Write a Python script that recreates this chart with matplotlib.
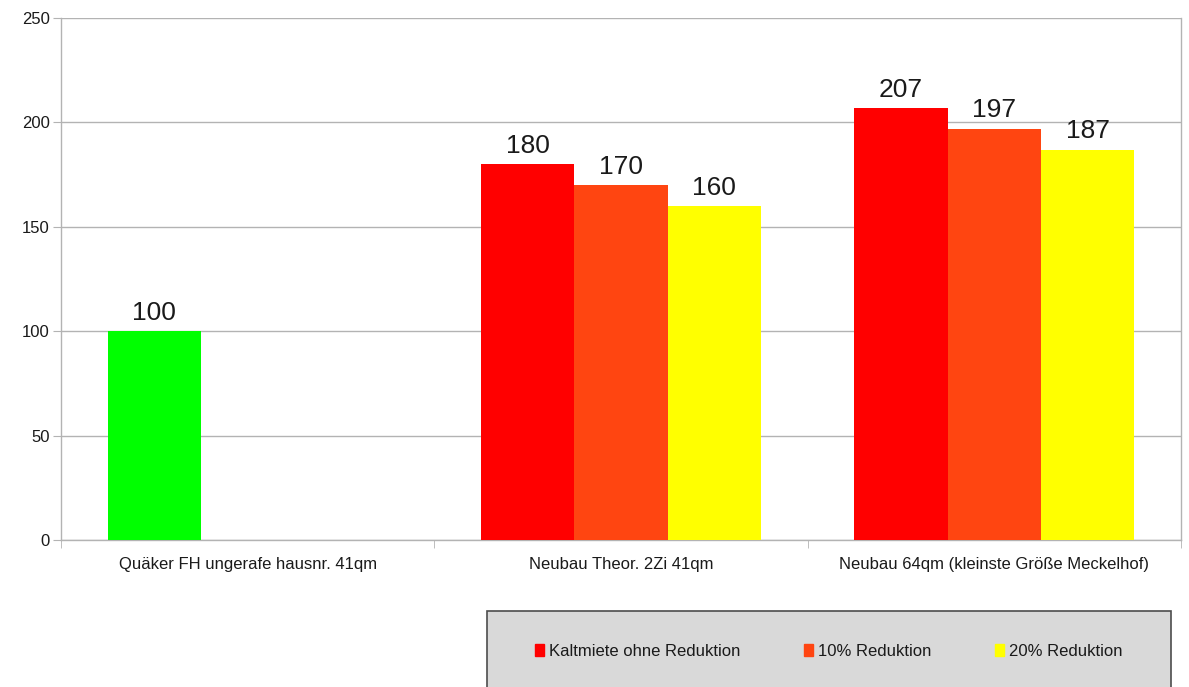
import numpy as np
import matplotlib
matplotlib.use('Agg')
import matplotlib.pyplot as plt
import matplotlib.patches as mpatches

plt.rcParams['font.family'] = ['Liberation Sans', 'DejaVu Sans']

categories = ['Quäker FH ungerafe hausnr. 41qm',
              'Neubau Theor. 2Zi 41qm',
              'Neubau 64qm (kleinste Größe Meckelhof)']
series_names = ['Kaltmiete ohne Reduktion', '10% Reduktion', '20% Reduktion']
kalt = [100, 180, 207]
red10 = [None, 170, 197]
red20 = [None, 160, 187]
series_vals = [kalt, red10, red20]
series_colors = ['#ff0000', '#ff4511', '#ffff00']
first_bar_color = '#00ff00'   # erster Balken (Bestand) grün

GRID = '#b3b3b3'
TXT = '#1a1a1a'

fig = plt.figure(figsize=(11.89, 6.87), dpi=100)
ax = fig.add_axes([0.0513, 0.214, 0.9420, 0.7598])

n = len(categories)
x = np.arange(n)
w = 0.25
for si, vals in enumerate(series_vals):
    for ci, v in enumerate(vals):
        if v is None:
            continue
        col = series_colors[si]
        if si == 0 and ci == 0:
            col = first_bar_color
        xp = x[ci] + (si - 1) * w
        ax.bar(xp, v, width=w, color=col, edgecolor='none', zorder=3)
        ax.text(xp, v + 3, str(v), ha='center', va='bottom', fontsize=19,
                color=TXT, zorder=4)

ax.set_xlim(-0.5, n - 0.5)
ax.set_ylim(0, 250)
ax.set_yticks(range(0, 251, 50))
ax.yaxis.grid(True, color=GRID, linewidth=1, zorder=0)
ax.tick_params(axis='y', length=6, color=GRID, labelsize=12, pad=2,
               labelcolor=TXT)

ax.set_xticks(x)
ax.set_xticklabels(categories, fontsize=12, color=TXT)
ax.tick_params(axis='x', length=0, pad=12)
ax.set_xticks(np.arange(-0.5, n, 1), minor=True)
ax.tick_params(axis='x', which='minor', length=6, color=GRID, direction='out')

for side in ['left', 'bottom', 'right']:
    ax.spines[side].set_color(GRID)
    ax.spines[side].set_linewidth(1)
ax.spines['top'].set_visible(False)

# grauer Legendenkasten unten rechts (unten abgeschnitten)
box = mpatches.Rectangle((0.4096, -0.02), 0.5753, 0.1306,
                         transform=fig.transFigure, facecolor='#d9d9d9',
                         edgecolor='#4d4d4d', linewidth=1.2, zorder=0)
fig.patches.append(box)

handles = [mpatches.Patch(color=c, label=l) for c, l in zip(series_colors, series_names)]
leg = fig.legend(handles=handles, loc='center', bbox_to_anchor=(0.697, 0.052),
                 ncol=3, fontsize=12, frameon=False,
                 handlelength=0.55, handleheight=0.75, handletextpad=0.3,
                 columnspacing=3.8)
for t in leg.get_texts():
    t.set_color(TXT)

fig.savefig('out.png', dpi=100)
